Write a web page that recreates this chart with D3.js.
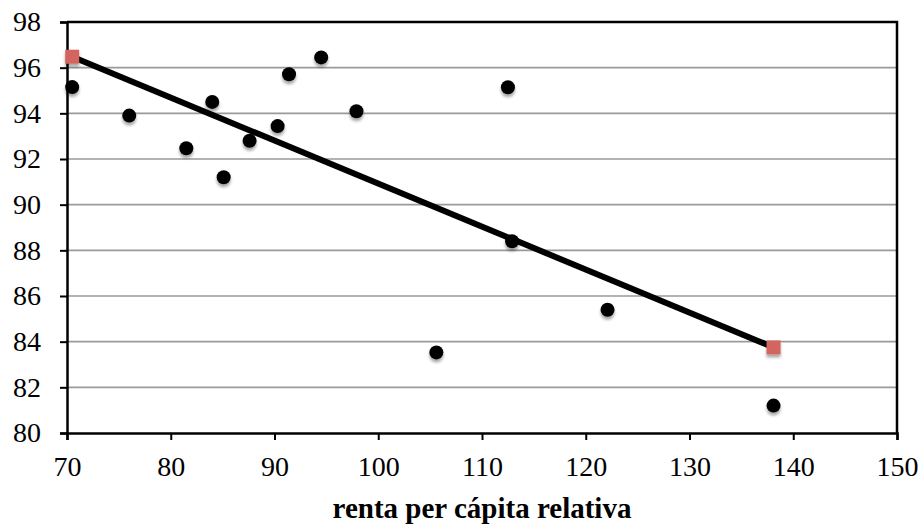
<!DOCTYPE html>
<html>
<head>
<meta charset="utf-8">
<script src="https://cdn.jsdelivr.net/npm/d3@7"></script>
<style>
  body { margin: 0; background: #fff; }
  svg text { font-family: Palatino, "Book Antiqua", "Liberation Serif", serif; fill: #000; }
</style>
</head>
<body>
<svg id="chart" width="921" height="525"></svg>
<script>
// observed points: relative income per capita vs. y value
const renta = [70.5, 76.0, 81.5, 84.0, 85.1, 87.6, 90.3, 91.4, 94.5, 97.9, 105.6, 112.5, 112.9, 122.1, 138.1];
const valores = [95.15, 93.9, 92.47, 94.5, 91.2, 92.8, 93.44, 95.71, 96.45, 94.09, 83.53, 95.14, 88.4, 85.4, 81.2];
// fitted line end points
const lineaX = [70.5, 138.1];
const lineaY = [96.48, 83.75];
const xTicks = [70, 80, 90, 100, 110, 120, 130, 140, 150];
const yTicks = [80, 82, 84, 86, 88, 90, 92, 94, 96, 98];

const svg = d3.select('#chart');
const m = {left: 67, right: 24, top: 22, bottom: 92};
const W = 921, H = 525;

const x = d3.scaleLinear().domain([70, 150]).range([m.left, W - m.right]);
const y = d3.scaleLinear().domain([80, 98]).range([H - m.bottom, m.top]);

// drop shadow for markers
const f = svg.append('defs').append('filter').attr('id', 'sombra')
    .attr('x', '-50%').attr('y', '-50%').attr('width', '200%').attr('height', '220%');
f.append('feGaussianBlur').attr('in', 'SourceAlpha').attr('stdDeviation', 1.6);
f.append('feOffset').attr('dx', 0).attr('dy', 3).attr('result', 'off');
f.append('feComponentTransfer').append('feFuncA').attr('type', 'linear').attr('slope', 0.35);
const mg = f.append('feMerge');
mg.append('feMergeNode');
mg.append('feMergeNode').attr('in', 'SourceGraphic');

// horizontal grid
svg.append('g')
    .selectAll('line')
    .data(yTicks.slice(1, -1))
    .enter()
    .append('line')
    .attr('x1', x(70)).attr('x2', x(150))
    .attr('y1', d => y(d)).attr('y2', d => y(d))
    .attr('stroke', '#9a9a9a')
    .attr('stroke-width', 1.6);

// frame top/right
svg.append('path')
    .attr('d', `M${x(70)},${y(98)}H${x(150)}V${y(80)}`)
    .attr('fill', 'none').attr('stroke', '#000').attr('stroke-width', 2.5);

// axes
const ax = svg.append('g')
    .attr('transform', `translate(0,${y(80)})`)
    .call(d3.axisBottom(x).tickValues(xTicks).tickSize(7).tickPadding(16).tickFormat(d3.format('d')));
const ay = svg.append('g')
    .attr('transform', `translate(${x(70)},0)`)
    .call(d3.axisLeft(y).tickValues(yTicks).tickSize(7).tickPadding(19).tickFormat(d3.format('d')));

[ax, ay].forEach(g => {
    g.select('.domain').attr('stroke', '#000').attr('stroke-width', 2.5);
    g.selectAll('.tick line').attr('stroke', '#000').attr('stroke-width', 2);
    g.selectAll('.tick text')
        .style('font-family', 'Palatino, "Book Antiqua", "Liberation Serif", serif')
        .attr('font-size', 28).attr('fill', '#000');
});

// trend line
svg.append('line')
    .attr('x1', x(lineaX[0])).attr('y1', y(lineaY[0]))
    .attr('x2', x(lineaX[1])).attr('y2', y(lineaY[1]))
    .attr('stroke', '#000').attr('stroke-width', 6);

// points
svg.append('g')
    .selectAll('circle')
    .data(renta)
    .enter()
    .append('circle')
    .attr('cx', d => x(d))
    .attr('cy', (d, i) => y(valores[i]))
    .attr('r', 7)
    .attr('fill', '#000')
    .attr('filter', 'url(#sombra)');

// red squares at the line ends
svg.append('g')
    .selectAll('rect')
    .data(lineaX)
    .enter()
    .append('rect')
    .attr('x', d => x(d) - 7)
    .attr('y', (d, i) => y(lineaY[i]) - 7)
    .attr('width', 14).attr('height', 14)
    .attr('fill', '#d2665f')
    .attr('filter', 'url(#sombra)');

// axis title
svg.append('text')
    .attr('x', (x(70) + x(150)) / 2)
    .attr('y', 518)
    .attr('text-anchor', 'middle')
    .attr('font-size', 29)
    .attr('font-weight', 'bold')
    .text('renta per cápita relativa');
</script>
</body>
</html>
